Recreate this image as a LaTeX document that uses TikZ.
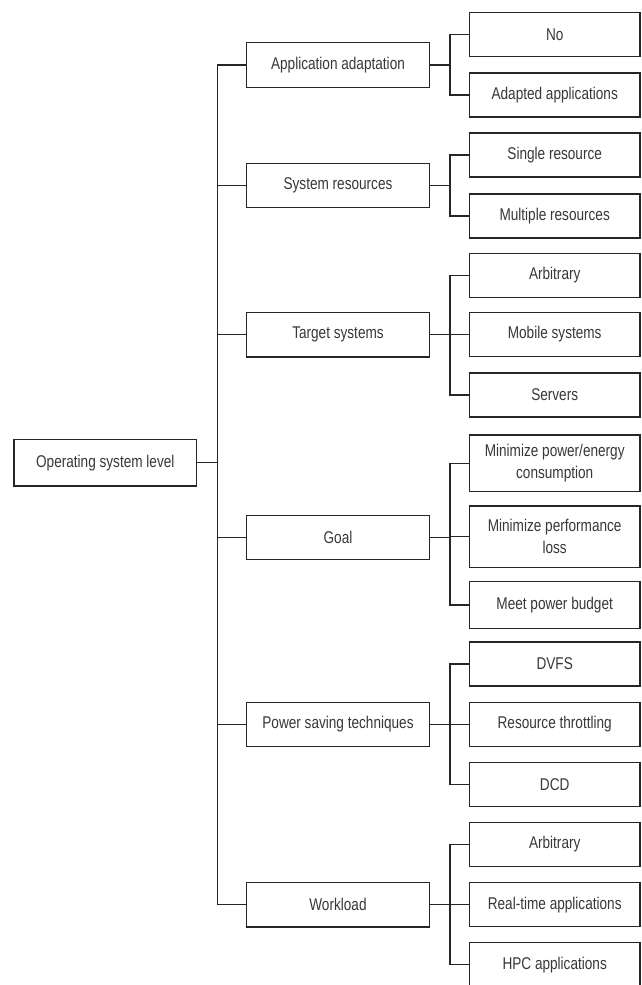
\documentclass[tikz,border=0pt]{standalone}
\usepackage{fontspec}
\setmainfont[FakeStretch=0.8]{Liberation Sans}
\begin{document}
\begin{tikzpicture}[x=1pt,y=-1pt,
  lab/.style={draw=black!85, line width=1.3pt, inner sep=0pt, align=center,
    text=black!78, font=\fontsize{17}{22}\selectfont},
  rootbox/.style={lab, minimum width=182.7pt, minimum height=46.7pt},
  midbox/.style={lab, minimum width=182.6pt, minimum height=44.5pt},
  leafbox/.style={lab, minimum width=170.7pt, minimum height=44pt},
  conn/.style={draw=black!85, line width=1.3pt}]
\useasboundingbox[fill=white] (0,0) rectangle (642,985);

\node[rootbox] (root) at (105.3,462.7) {Operating system level};

\node[midbox] (app)  at (338,65)    {Application adaptation};
\node[midbox] (sys)  at (338,185.5) {System resources};
\node[midbox] (tgt)  at (338,334.8) {Target systems};
\node[midbox] (goal) at (338,537.5) {Goal};
\node[midbox] (pwr)  at (338,724.4) {Power saving techniques};
\node[midbox] (wl)   at (338,904.7) {Workload};

\node[leafbox] (no)    at (554.7,34.7)  {No};
\node[leafbox] (adapt) at (554.7,95)    {Adapted applications};
\node[leafbox] (single) at (554.7,155)  {Single resource};
\node[leafbox] (multi) at (554.7,216)   {Multiple resources};
\node[leafbox] (arb)   at (554.7,275.3) {Arbitrary};
\node[leafbox] (mob)   at (554.7,334.5) {Mobile systems};
\node[leafbox] (srv)   at (554.7,395)   {Servers};
\node[leafbox, minimum height=56.7pt] (minpow) at (554.7,463.3) {Minimize power/energy\\consumption};
\node[leafbox, minimum height=61.7pt] (minperf) at (554.7,536.8) {Minimize performance\\loss};
\node[leafbox, minimum height=46.6pt] (meet) at (554.7,605) {Meet power budget};
\node[leafbox] (dvfs)  at (554.7,664)   {DVFS};
\node[leafbox] (thr)   at (554.7,724.2) {Resource throttling};
\node[leafbox] (dcd)   at (554.7,784.2) {DCD};
\node[leafbox] (arb2)  at (554.7,844.2) {Arbitrary};
\node[leafbox] (rt)    at (554.7,904.7) {Real-time applications};
\node[leafbox] (hpc)   at (554.7,964.7) {HPC applications};

% trunk
\foreach \m in {app,sys,tgt,goal,pwr,wl}
  \draw[conn] (root.east) -- ++(20.3,0) |- (\m.west);

% branches
\foreach \m/\l in {app/no,app/adapt,sys/single,sys/multi,tgt/arb,tgt/mob,tgt/srv,
  goal/minpow,goal/minperf,goal/meet,pwr/dvfs,pwr/thr,pwr/dcd,wl/arb2,wl/rt,wl/hpc}
  \draw[conn] (\m.east) -- ++(20,0) |- (\l.west);
\end{tikzpicture}
\end{document}
